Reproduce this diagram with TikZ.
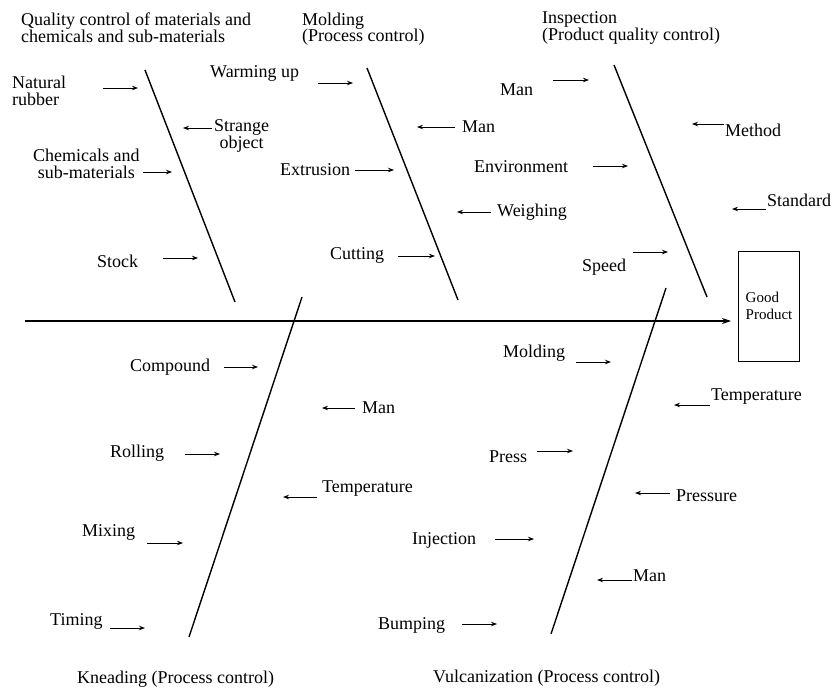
\documentclass[tikz,border=0pt]{standalone}
\usepackage{fontspec}
\setmainfont{Liberation Serif}
\usetikzlibrary{arrows.meta}
\begin{document}
\begin{tikzpicture}[x=1pt,y=-1pt,
  bone/.style={line width=1.4pt},
  spine/.style={line width=1.1pt,-{Stealth[length=9pt,width=6pt]}},
  cause/.style={line width=0.9pt,-{Stealth[length=6pt,width=4.5pt]}},
  lbl/.style={font=\fontsize{18}{16.5}\selectfont, inner sep=0pt, anchor=west, align=left},
  lblc/.style={lbl, align=center},
  boxlbl/.style={draw, line width=1pt, font=\fontsize{15}{17}\selectfont, inner xsep=2pt,
    align=left, minimum width=61pt, minimum height=110pt},
]
\useasboundingbox (0,0) rectangle (833,693);

% ---- spine and effect box ----
\node[boxlbl] (good) at (769,306) {Good\\Product};
\coordinate (tail) at (25,321);
\coordinate (head) at (731,321);
\draw[spine] (tail) -- (head);

% ---- main bones ----
\coordinate (b1t) at (145,70);  \coordinate (b1b) at (235,302);
\coordinate (b2t) at (367,68);  \coordinate (b2b) at (458,300);
\coordinate (b3t) at (614,65);  \coordinate (b3b) at (707,297);
\coordinate (b4t) at (302,297); \coordinate (b4b) at (189,637);
\coordinate (b5t) at (666,288); \coordinate (b5b) at (551,634);
\draw[bone] (b1t) -- (b1b);
\draw[bone] (b2t) -- (b2b);
\draw[bone] (b3t) -- (b3b);
\draw[bone] (b4t) -- (b4b);
\draw[bone] (b5t) -- (b5b);

% ---- category titles ----
\node[lbl] (t1) at (21,28) {Quality control of materials and\\chemicals and sub-materials};
\node[lbl] (t2) at (302,29) {Molding\\(Process control)};
\node[lbl] (t3) at (542,28) {Inspection\\(Product quality control)};
\node[lbl] (t4) at (77,679) {Kneading (Process control)};
\node[lbl] (t5) at (433,678) {Vulcanization (Process control)};

% ---- materials ----
\node[lbl] (natural) at (12,91) {Natural\\rubber};
\coordinate (natA) at (103,88); \coordinate (natB) at (138,88);
\draw[cause] (natA) -- (natB);
\node[lblc] (strange) at (214,136) {Strange\\object};
\coordinate (strA) at (212,128); \coordinate (strB) at (183,128);
\draw[cause] (strA) -- (strB);
\node[lblc] (chem) at (33,164) {Chemicals and\\sub-materials};
\coordinate (chemA) at (143,172); \coordinate (chemB) at (172,172);
\draw[cause] (chemA) -- (chemB);
\node[lbl] (stock) at (97,261) {Stock};
\coordinate (stA) at (163,258); \coordinate (stB) at (198,258);
\draw[cause] (stA) -- (stB);

% ---- molding ----
\node[lbl] (warm) at (210,73) {Warming up};
\coordinate (wA) at (318,83); \coordinate (wB) at (353,83);
\draw[cause] (wA) -- (wB);
\node[lbl] (man1) at (462,127) {Man};
\coordinate (m1A) at (455,127); \coordinate (m1B) at (417,127);
\draw[cause] (m1A) -- (m1B);
\node[lbl] (extr) at (280,170) {Extrusion};
\coordinate (exA) at (355,170); \coordinate (exB) at (394,170);
\draw[cause] (exA) -- (exB);
\node[lbl] (weigh) at (497,212) {Weighing};
\coordinate (weA) at (491,212); \coordinate (weB) at (457,212);
\draw[cause] (weA) -- (weB);
\node[lbl] (cut) at (330,255) {Cutting};
\coordinate (cuA) at (398,256); \coordinate (cuB) at (435,256);
\draw[cause] (cuA) -- (cuB);

% ---- inspection ----
\node[lbl] (man2) at (500,90) {Man};
\coordinate (m2A) at (553,80); \coordinate (m2B) at (589,80);
\draw[cause] (m2A) -- (m2B);
\node[lbl] (method) at (725,130) {Method};
\coordinate (meA) at (724,124); \coordinate (meB) at (692,124);
\draw[cause] (meA) -- (meB);
\node[lbl] (env) at (474,167) {Environment};
\coordinate (enA) at (593,166); \coordinate (enB) at (628,166);
\draw[cause] (enA) -- (enB);
\node[lbl] (std) at (767,200) {Standard};
\coordinate (sdA) at (766,209); \coordinate (sdB) at (732,209);
\draw[cause] (sdA) -- (sdB);
\node[lbl] (speed) at (582,267) {Speed};
\coordinate (spA) at (633,252); \coordinate (spB) at (668,252);
\draw[cause] (spA) -- (spB);

% ---- kneading ----
\node[lbl] (comp) at (130,367) {Compound};
\coordinate (coA) at (224,367); \coordinate (coB) at (258,367);
\draw[cause] (coA) -- (coB);
\node[lbl] (man3) at (362,408) {Man};
\coordinate (m3A) at (355,408); \coordinate (m3B) at (322,408);
\draw[cause] (m3A) -- (m3B);
\node[lbl] (roll) at (110,453) {Rolling};
\coordinate (roA) at (185,454); \coordinate (roB) at (220,454);
\draw[cause] (roA) -- (roB);
\node[lbl] (temp1) at (322,489) {Temperature};
\coordinate (t1A) at (317,497); \coordinate (t1B) at (283,497);
\draw[cause] (t1A) -- (t1B);
\node[lbl] (mix) at (82,532) {Mixing};
\coordinate (mxA) at (147,543); \coordinate (mxB) at (183,543);
\draw[cause] (mxA) -- (mxB);
\node[lbl] (tim) at (50,621) {Timing};
\coordinate (tiA) at (110,628); \coordinate (tiB) at (145,628);
\draw[cause] (tiA) -- (tiB);

% ---- vulcanization ----
\node[lbl] (mold) at (503,353) {Molding};
\coordinate (moA) at (576,362); \coordinate (moB) at (611,362);
\draw[cause] (moA) -- (moB);
\node[lbl] (temp2) at (711,397) {Temperature};
\coordinate (t2A) at (710,405); \coordinate (t2B) at (674,405);
\draw[cause] (t2A) -- (t2B);
\node[lbl] (press) at (489,457) {Press};
\coordinate (prA) at (537,451); \coordinate (prB) at (573,451);
\draw[cause] (prA) -- (prB);
\node[lbl] (pres) at (676,496) {Pressure};
\coordinate (psA) at (670,493); \coordinate (psB) at (635,493);
\draw[cause] (psA) -- (psB);
\node[lbl] (inj) at (412,540) {Injection};
\coordinate (inA) at (495,539); \coordinate (inB) at (534,539);
\draw[cause] (inA) -- (inB);
\node[lbl] (man4) at (633,576) {Man};
\coordinate (m4A) at (632,580); \coordinate (m4B) at (597,580);
\draw[cause] (m4A) -- (m4B);
\node[lbl] (bump) at (378,625) {Bumping};
\coordinate (buA) at (462,624); \coordinate (buB) at (497,624);
\draw[cause] (buA) -- (buB);
\end{tikzpicture}
\end{document}
